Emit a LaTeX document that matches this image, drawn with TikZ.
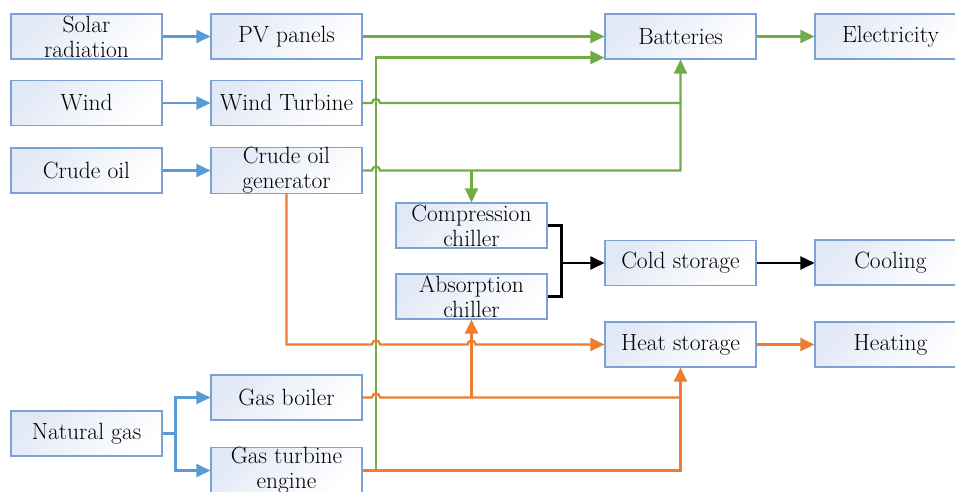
\documentclass[tikz,border=0pt]{standalone}
\usetikzlibrary{arrows.meta,calc}
\definecolor{boxborder}{RGB}{122,162,212}
\definecolor{boxfill}{RGB}{226,233,246}
\definecolor{cblue}{RGB}{91,155,213}
\definecolor{cgreen}{RGB}{112,173,71}
\definecolor{corange}{RGB}{237,125,49}
\tikzset{
  box/.style={draw=boxborder, line width=1.1pt, top color=boxfill, bottom color=white, shading angle=45,
    minimum width=151pt, minimum height=45pt, inner sep=0pt, align=center,
    font=\fontsize{23.5}{25}\selectfont},
  conn/.style={line width=2.3pt, line join=miter},
  tip/.style={-{Triangle[length=14pt,width=13pt]}},
  bluec/.style={conn, draw=cblue},
  greenc/.style={conn, draw=cgreen},
  orangec/.style={conn, draw=corange},
  blackc/.style={conn, draw=black},
}
\newcommand{\hopat}[1]{-- ($(#1)+(-4,0)$) arc[start angle=180,end angle=0,radius=4pt]}
\begin{document}
\begin{tikzpicture}[x=1pt,y=1pt]
\useasboundingbox (0,0) rectangle (955,-491);
% column 1
\node[box] (solar) at (86.5,-36.5) {Solar\\radiation};
\node[box] (wind) at (86.5,-103) {Wind};
\node[box] (crude) at (86.5,-170.5) {Crude oil};
\node[box] (ng) at (86.5,-433.5) {Natural gas};
% column 2
\node[box] (pv) at (286.5,-36.5) {PV panels};
\node[box] (wt) at (286.5,-103) {Wind Turbine};
\node[box] (cog) at (286.5,-170.5) {Crude oil\\generator};
\node[box] (gb) at (286.5,-397.5) {Gas boiler};
\node[box] (gt) at (286.5,-470.5) {Gas turbine\\engine};
% chillers
\node[box] (comp) at (471.5,-225.5) {Compression\\chiller};
\node[box] (abs) at (471.5,-296.5) {Absorption\\chiller};
% column 4
\node[box] (bat) at (680.5,-36.5) {\raisebox{-5pt}{Batteries}};
\node[box] (cold) at (680.5,-263) {\raisebox{-4pt}{Cold storage}};
\node[box] (heat) at (680.5,-344.5) {Heat storage};
% column 5
\node[box] (elec) at (890.5,-36.5) {Electricity};
\node[box] (cool) at (890.5,-262.5) {Cooling};
\node[box] (heating) at (890.5,-344.5) {Heating};

\coordinate (gx) at (376,0);
\coordinate (fork) at ($(ng.east)+(13,0)$);
\coordinate (brk) at ($(comp.east)+(14,0)$);
\coordinate (batin) at ($(bat.south west)+(0,2)$);

% blue
\draw[bluec,tip] (solar.east) -- (pv.west);
\draw[bluec,tip] (wind.east) -- (wt.west);
\draw[bluec,tip] (crude.east) -- (cog.west);
\draw[bluec,tip] (ng.east) -- (fork) |- (gb.west);
\draw[bluec,tip] (fork) |- (gt.west);

% green
\draw[greenc,tip] (pv.east) -- (bat.west);
\draw[greenc,tip] (gt.east) -- (gx |- gt.east) |- (batin);
\draw[greenc,tip] (wt.east) \hopat{gx |- wt.east} -- (bat.south |- wt.east) -- (bat.south);
\draw[greenc] (cog.east) \hopat{gx |- cog.east} -- (bat.south |- cog.east) -- (bat.south |- wt.east);
\draw[greenc,tip] (comp.north |- cog.east) -- (comp.north);
\draw[greenc,tip] (bat.east) -- (elec.west);

% orange
\draw[orangec,tip] (cog.south) -- (cog.south |- heat.west) \hopat{gx |- heat.west} \hopat{abs.south |- heat.west} -- (heat.west);
\draw[orangec] (gb.east) \hopat{gx |- gb.east} -- (heat.south |- gb.east);
\draw[orangec,tip] (abs.south |- gb.east) -- (abs.south);
\draw[orangec,tip] (gt.east) -- (heat.south |- gt.east) -- (heat.south);
\draw[orangec,tip] (heat.east) -- (heating.west);

% black
\draw[blackc] (comp.east) -- (brk) |- (abs.east);
\draw[blackc,tip] (brk |- cold.west) -- (cold.west);
\draw[blackc,tip] (cold.east) -- (cool.west |- cold.east);
\end{tikzpicture}
\end{document}
